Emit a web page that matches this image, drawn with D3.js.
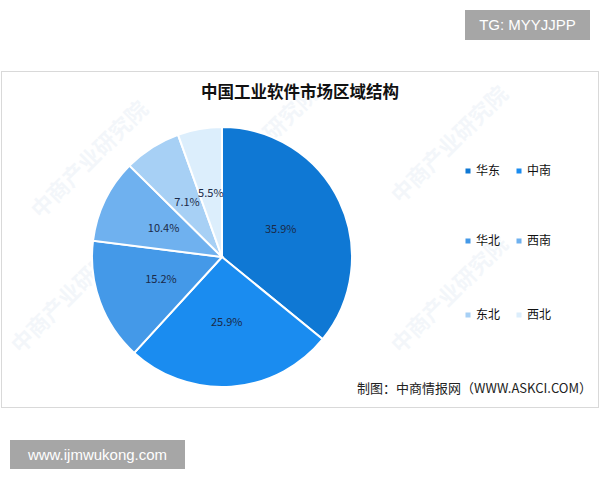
<!DOCTYPE html>
<html><head><meta charset="utf-8">
<script src="https://cdn.jsdelivr.net/npm/d3@7/dist/d3.min.js"></script>
<style>body{margin:0;background:#fff}svg{display:block}</style>
</head><body><svg id="c" width="600" height="480"></svg>
<script>
const categories = ["华东","中南","华北","西南","东北","西北"];
const values = [35.9, 25.9, 15.2, 10.4, 7.1, 5.5];
const colors = ["#0F78D4","#1A8CF0","#4499E8","#6FB1EF","#A7D0F5","#DCEEFC"];
const title = "中国工业软件市场区域结构";
const source = "制图：中商情报网（WWW.ASKCI.COM）";

const svg = d3.select("#c");
const font = "'Noto Sans CJK SC','Noto Sans',sans-serif";

// frame
svg.append("rect").attr("x",1.5).attr("y",71.5).attr("width",597).attr("height",336)
  .attr("fill","#fff").attr("stroke","#d9d9d9");

// watermarks
const wm = [[95,165],[265,150],[455,150],[75,300],[265,300],[455,300]];
wm.forEach(([x,y])=>{
  svg.append("text").attr("transform",`translate(${x},${y}) rotate(-45)`)
    .attr("text-anchor","middle").attr("font-family",font).attr("font-size",22)
    .attr("font-weight","bold").attr("fill","#8fb3d6").attr("opacity",0.1).text("中商产业研究院");
});

svg.append("text").attr("x",300).attr("y",97.5).attr("text-anchor","middle")
  .attr("font-family",font).attr("font-weight","bold").attr("font-size",16.5).attr("fill","#111").text(title);

const cx=222, cy=257, r=130;
const pie = d3.pie().sort(null).value(d=>d)(values);
const arc = d3.arc().innerRadius(0).outerRadius(r);
const g = svg.append("g").attr("transform",`translate(${cx},${cy})`);
g.selectAll("path").data(pie).join("path").attr("d",arc)
  .attr("fill",(d,i)=>colors[i]).attr("stroke","#fff").attr("stroke-width",2);
g.selectAll("text").data(pie).join("text")
  .attr("transform",d=>{const a=(d.startAngle+d.endAngle)/2; const rr=65; return `translate(${Math.sin(a)*rr},${-Math.cos(a)*rr})`;})
  .attr("text-anchor","middle").attr("dy","0.35em")
  .attr("font-family",font).attr("font-size",11).attr("fill","#1b2a48")
  .text(d=>d.data.toFixed(1)+"%");

// legend
const lx=[468,519], ly=[171,241,315];
categories.forEach((c,i)=>{
  const x=lx[i%2], y=ly[Math.floor(i/2)];
  svg.append("rect").attr("x",x-2.5).attr("y",y-2.5).attr("width",5).attr("height",5).attr("fill",colors[i]);
  svg.append("text").attr("x",x+8).attr("y",y).attr("dy","0.35em")
    .attr("font-family",font).attr("font-size",12).attr("fill","#111").text(c);
});

svg.append("text").attr("x",592).attr("y",388).attr("dy","0.35em").attr("text-anchor","end")
  .attr("font-family",font).attr("font-size",13).attr("fill","#222").text(source);

// badges
svg.append("rect").attr("x",465).attr("y",10).attr("width",125).attr("height",30).attr("fill","#a6a6a6");
svg.append("text").attr("x",527.5).attr("y",25).attr("dy","0.35em").attr("text-anchor","middle")
  .attr("font-family","'Liberation Sans',Arial,sans-serif").attr("font-size",15).attr("fill","#fff").text("TG: MYYJJPP");
svg.append("rect").attr("x",10).attr("y",440).attr("width",175).attr("height",29).attr("fill","#a6a6a6");
svg.append("text").attr("x",97.5).attr("y",454.5).attr("dy","0.35em").attr("text-anchor","middle")
  .attr("font-family","'Liberation Sans',Arial,sans-serif").attr("font-size",15).attr("fill","#fff").text("www.ijmwukong.com");
</script></body></html>
